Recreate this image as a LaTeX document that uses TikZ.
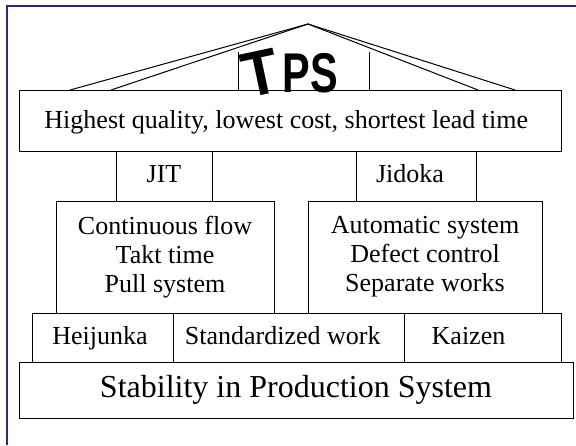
\documentclass[tikz,border=0pt]{standalone}
\usepackage{fontspec}
\setmainfont{Liberation Serif}
\newfontfamily\roofsans{Liberation Sans}
\usetikzlibrary{positioning}
\definecolor{framenavy}{RGB}{40,40,135}

\begin{document}
\begin{tikzpicture}[x=1pt, y=-1pt, line width=1pt,
	box/.style={draw, inner sep=0pt, outer sep=0pt, align=center, font=\fontsize{26}{29}\selectfont},
	txt/.style={inner sep=0pt, text height=18pt, text depth=5pt, font=\fontsize{26}{29}\selectfont},
	basebox/.style={box, font=\fontsize{32}{36}\selectfont},
	roofletter/.style={inner sep=0pt, font=\roofsans\bfseries\fontsize{56}{56}\selectfont}]
	 \useasboundingbox (0,0) rectangle (576,445);
	 \draw[framenavy, line width=2pt] (6.7,445) -- (6.7,5.5) -- (576,5.5);
	 \coordinate (apex) at (308,24);
	 \draw (70,90) -- (apex) -- (515,90);
	 \draw (111,90) -- (apex) -- (478,90);
	 \draw (238,52) -- (238,90);
	 \draw (369.5,52) -- (369.5,90);
	 \node [box, minimum width=542.5, minimum height=61] (goal) at (290.25,120.5) {};
	 \node [txt] (goaltext) at ([xshift=-4,yshift=-1]goal.center) {Highest quality, lowest cost, shortest lead time};
	 \node [box, minimum width=96, minimum height=50] (jit) at (164,176) {};
	 \node [txt] (jittext) at (jit.center) {JIT};
	 \node [box, minimum width=120, minimum height=50] (jidoka) at (416,176) {};
	 \node [txt] (jidokatext) at ([xshift=-6]jidoka.center) {Jidoka};
	 \node [box, minimum width=218, minimum height=112] (flow) at (165,257) {Continuous flow\\Takt time\\Pull system};
	 \node [box, minimum width=234, minimum height=112] (auto) at (425,257) {Automatic system\\Defect control\\Separate works};
	 \node [box, minimum width=141, minimum height=49] (heij) at (103,337.5) {};
	 \node [txt] (heijtext) at ([xshift=-3]heij.center) {Heijunka};
	 \node [box, minimum width=230.5, minimum height=49] (std) at (288.75,337.5) {};
	 \node [txt] (stdtext) at ([xshift=-6]std.center) {Standardized work};
	 \node [box, minimum width=157, minimum height=49] (kaizen) at (482.5,337.5) {};
	 \node [txt] (kaizentext) at ([xshift=-14]kaizen.center) {Kaizen};
	 \node [basebox, minimum width=554, minimum height=56] (stab) at (296,390) {Stability in Production System};
	 \node [roofletter, anchor=base east] (tps) at (338.5,92) {\raisebox{-3pt}{\rotatebox[origin=c]{12}{\fontsize{64}{64}\selectfont\scalebox{.92}[1]{T}}}\hspace{0pt}\scalebox{.74}[1]{PS}};
\end{tikzpicture}
\end{document}
